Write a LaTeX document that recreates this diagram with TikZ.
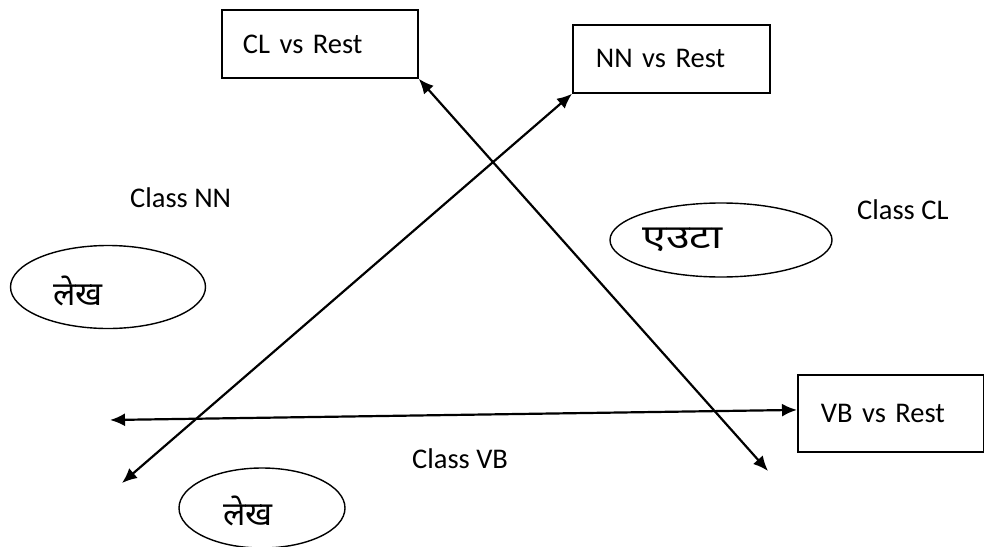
\documentclass[tikz,border=0pt]{standalone}
\usepackage{fontspec}
\setmainfont{Carlito}
\newfontfamily\deva[Script=Devanagari]{Noto Sans}
\newfontfamily\devawide[Script=Devanagari,FakeStretch=1.3]{Noto Sans}
\usetikzlibrary{arrows.meta,shapes.geometric}
\begin{document}
\begin{tikzpicture}[x=1pt,y=-1pt,
  every node/.style={inner sep=0pt, font=\fontsize{28.5}{34}\selectfont},
  vsbox/.style={draw, line width=1.8pt, rectangle, anchor=north west, align=left, inner ysep=0pt},
  lbl/.style={anchor=base west},
  oval/.style={draw, ellipse, line width=1.4pt, align=left, text depth=0pt, font=\fontsize{33}{38}\selectfont\deva},
  twoway/.style={{Latex[length=15pt,width=13pt]}-{Latex[length=15pt,width=13pt]}, line width=2.2pt}
]
\useasboundingbox (0,0) rectangle (984,546);
% boxes
\node[vsbox, minimum width=196pt, minimum height=68pt, inner xsep=21pt, text width=154pt] (cl) at (221,9) {CL vs Rest};
\node[vsbox, minimum width=197pt, minimum height=68pt, inner xsep=23pt, text width=151pt] (nn) at (572,24) {NN vs Rest};
\node[vsbox, minimum width=186pt, minimum height=77pt, inner xsep=23pt, text width=140pt] (vb) at (797,374) {VB vs Rest};
% class labels
\node[lbl] (cnn) at (130,207) {Class NN};
\node[lbl] (ccl) at (857,219) {Class CL};
\node[lbl] (cvb) at (412,468) {Class VB};
% ellipses
\node[oval, minimum width=195pt, minimum height=83pt, text width=110pt, text height=36pt] (e1) at (108,287) {लेख};
\node[oval, minimum width=193pt, minimum height=74pt, text width=157pt, text height=16pt, font=\fontsize{33}{38}\selectfont\devawide] (e2) at (721,240) {एउटा};
\node[oval, minimum width=166pt, minimum height=80pt, text width=78pt, text height=34pt] (e3) at (262,508) {लेख};
% free ends
\coordinate (a1) at (768,471);
\coordinate (a2) at (122,483);
\coordinate (a3) at (110,420);
% arrows
\draw[twoway] (cl.south east) -- (a1);
\draw[twoway] (nn.south west) -- (a2);
\draw[twoway] ([yshift=3.5pt]vb.west) -- (a3);
\end{tikzpicture}
\end{document}
